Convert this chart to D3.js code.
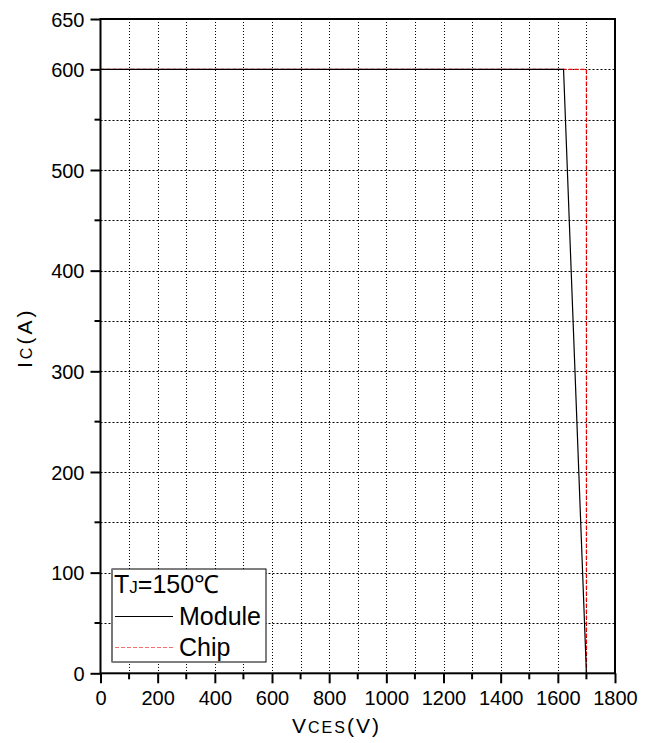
<!DOCTYPE html>
<html>
<head>
<meta charset="utf-8">
<script src="https://cdn.jsdelivr.net/npm/d3@7"></script>
<style>
  body { margin: 0; background: #fff; }
  svg text { font-family: "Liberation Sans", Arial, sans-serif; fill: #000; }
</style>
</head>
<body>
<div id="chart"></div>
<script>
// data
var moduleV = [0, 1620, 1700];
var moduleI = [600, 600, 0];
var chipV = [0, 1700, 1700];
var chipI = [600, 600, 0];

var xTicks = [0, 200, 400, 600, 800, 1000, 1200, 1400, 1600, 1800];
var xMinor = [100, 300, 500, 700, 900, 1100, 1300, 1500, 1700];
var yTicks = [0, 100, 200, 300, 400, 500, 600, 650];
var yMinor = [50, 150, 250, 350, 450, 550];

var svgWidth = 651;
var svgHeight = 743;

var margin = { top: 19, left: 100.5, right: 36, bottom: 70 };
var width = 514.5;
var height = 654.3;

var svg = d3.select('#chart')
  .append('svg')
  .attr('width', svgWidth)
  .attr('height', svgHeight);

var chartGroup = svg.append('g')
  .attr('transform', `translate(${margin.left}, ${margin.top})`);

var x = d3.scaleLinear().domain([0, 1800]).range([0, width]);
var y = d3.scaleLinear().domain([0, 650]).range([height, 0]);

// snap to pixel so the dotted lines stay crisp
var px = function (v, off) { return Math.round(v + off) + 0.5 - off; };

// grid lines (dotted)
chartGroup.append('g').selectAll('line')
  .data(xTicks.concat(xMinor).filter(d => d > 0 && d < 1800))
  .enter().append('line')
  .attr('x1', d => px(x(d), margin.left)).attr('x2', d => px(x(d), margin.left))
  .attr('y1', 0).attr('y2', height)
  .attr('stroke', '#000').attr('stroke-width', 1)
  .attr('stroke-dasharray', '1,2');

chartGroup.append('g').selectAll('line')
  .data(yTicks.concat(yMinor).filter(d => d > 0 && d < 650))
  .enter().append('line')
  .attr('x1', 0).attr('x2', width)
  .attr('y1', d => px(y(d), margin.top)).attr('y2', d => px(y(d), margin.top))
  .attr('stroke', '#000').attr('stroke-width', 1)
  .attr('stroke-dasharray', '2,2');

// curves
var line = d3.line().x(d => x(d[0])).y(d => y(d[1]));

chartGroup.append('path')
  .datum(chipV.map((v, i) => [v, chipI[i]]))
  .attr('d', line)
  .attr('fill', 'none')
  .attr('stroke', '#ff0000')
  .attr('stroke-width', 1.3)
  .attr('stroke-dasharray', '4,2');

chartGroup.append('path')
  .datum(moduleV.map((v, i) => [v, moduleI[i]]))
  .attr('d', line)
  .attr('fill', 'none')
  .attr('stroke', '#000')
  .attr('stroke-width', 1.2);

// axes
var bottomAxis = d3.axisBottom(x).tickValues(xTicks).tickFormat(d3.format('d'))
  .tickSize(10).tickSizeOuter(0).tickPadding(8);
var xAxis = chartGroup.append('g')
  .attr('transform', `translate(0, ${height})`)
  .call(bottomAxis);

var leftAxis = d3.axisLeft(y).tickValues(yTicks).tickFormat(d3.format('d'))
  .tickSize(10).tickSizeOuter(0).tickPadding(6);
var yAxis = chartGroup.append('g').call(leftAxis);

[xAxis, yAxis].forEach(function (a) {
  a.select('.domain').remove();
  a.selectAll('line').attr('stroke', '#000').attr('stroke-width', 2);
  a.selectAll('text').attr('font-size', 20).attr('fill', '#000')
    .style('font-family', '"Liberation Sans", Arial, sans-serif');
});
yAxis.selectAll('text').attr('dy', '0.36em');

// minor ticks
chartGroup.append('g').selectAll('line')
  .data(xMinor).enter().append('line')
  .attr('x1', d => x(d)).attr('x2', d => x(d))
  .attr('y1', height).attr('y2', height + 6)
  .attr('stroke', '#000').attr('stroke-width', 2);

chartGroup.append('g').selectAll('line')
  .data(yMinor).enter().append('line')
  .attr('x1', 0).attr('x2', -6)
  .attr('y1', d => y(d)).attr('y2', d => y(d))
  .attr('stroke', '#000').attr('stroke-width', 2);

// frame
chartGroup.append('rect')
  .attr('x', 0).attr('y', 0)
  .attr('width', width).attr('height', height)
  .attr('fill', 'none')
  .attr('stroke', '#000')
  .attr('stroke-width', 2);

// axis titles
var xTitle = svg.append('text')
  .attr('x', 292)
  .attr('y', 733)
  .attr('font-size', 21)
  .attr('letter-spacing', 2);
xTitle.append('tspan').text('V');
xTitle.append('tspan').attr('font-size', 16).text('CES');
xTitle.append('tspan').text('(V)');

var yTitle = svg.append('text')
  .attr('transform', 'translate(32, 368) rotate(-90)')
  .attr('font-size', 21)
  .attr('letter-spacing', 3);
yTitle.append('tspan').text('I');
yTitle.append('tspan').attr('font-size', 16).text('C');
yTitle.append('tspan').text('(A)');

// legend
var legend = svg.append('g');
legend.append('rect')
  .attr('x', 112).attr('y', 569)
  .attr('width', 154).attr('height', 93)
  .attr('fill', '#fff')
  .attr('stroke', '#000')
  .attr('stroke-width', 1);
legend.append('line')
  .attr('x1', 112).attr('x2', 112)
  .attr('y1', 569).attr('y2', 662)
  .attr('stroke', '#777').attr('stroke-width', 2);

var lt = legend.append('text')
  .attr('x', 114).attr('y', 593)
  .attr('font-size', 25);
lt.append('tspan').text('T');
lt.append('tspan').attr('font-size', 17).text('J');
lt.append('tspan').text('=150℃');

legend.append('line')
  .attr('x1', 115).attr('x2', 173)
  .attr('y1', 616.5).attr('y2', 616.5)
  .attr('stroke', '#000').attr('stroke-width', 1.2);
legend.append('text')
  .attr('x', 179).attr('y', 625)
  .attr('font-size', 25)
  .text('Module');

legend.append('line')
  .attr('x1', 115).attr('x2', 173)
  .attr('y1', 647.5).attr('y2', 647.5)
  .attr('stroke', '#f47070').attr('stroke-width', 1.2)
  .attr('stroke-dasharray', '4,2');
legend.append('text')
  .attr('x', 179).attr('y', 656)
  .attr('font-size', 25)
  .text('Chip');
</script>
</body>
</html>
